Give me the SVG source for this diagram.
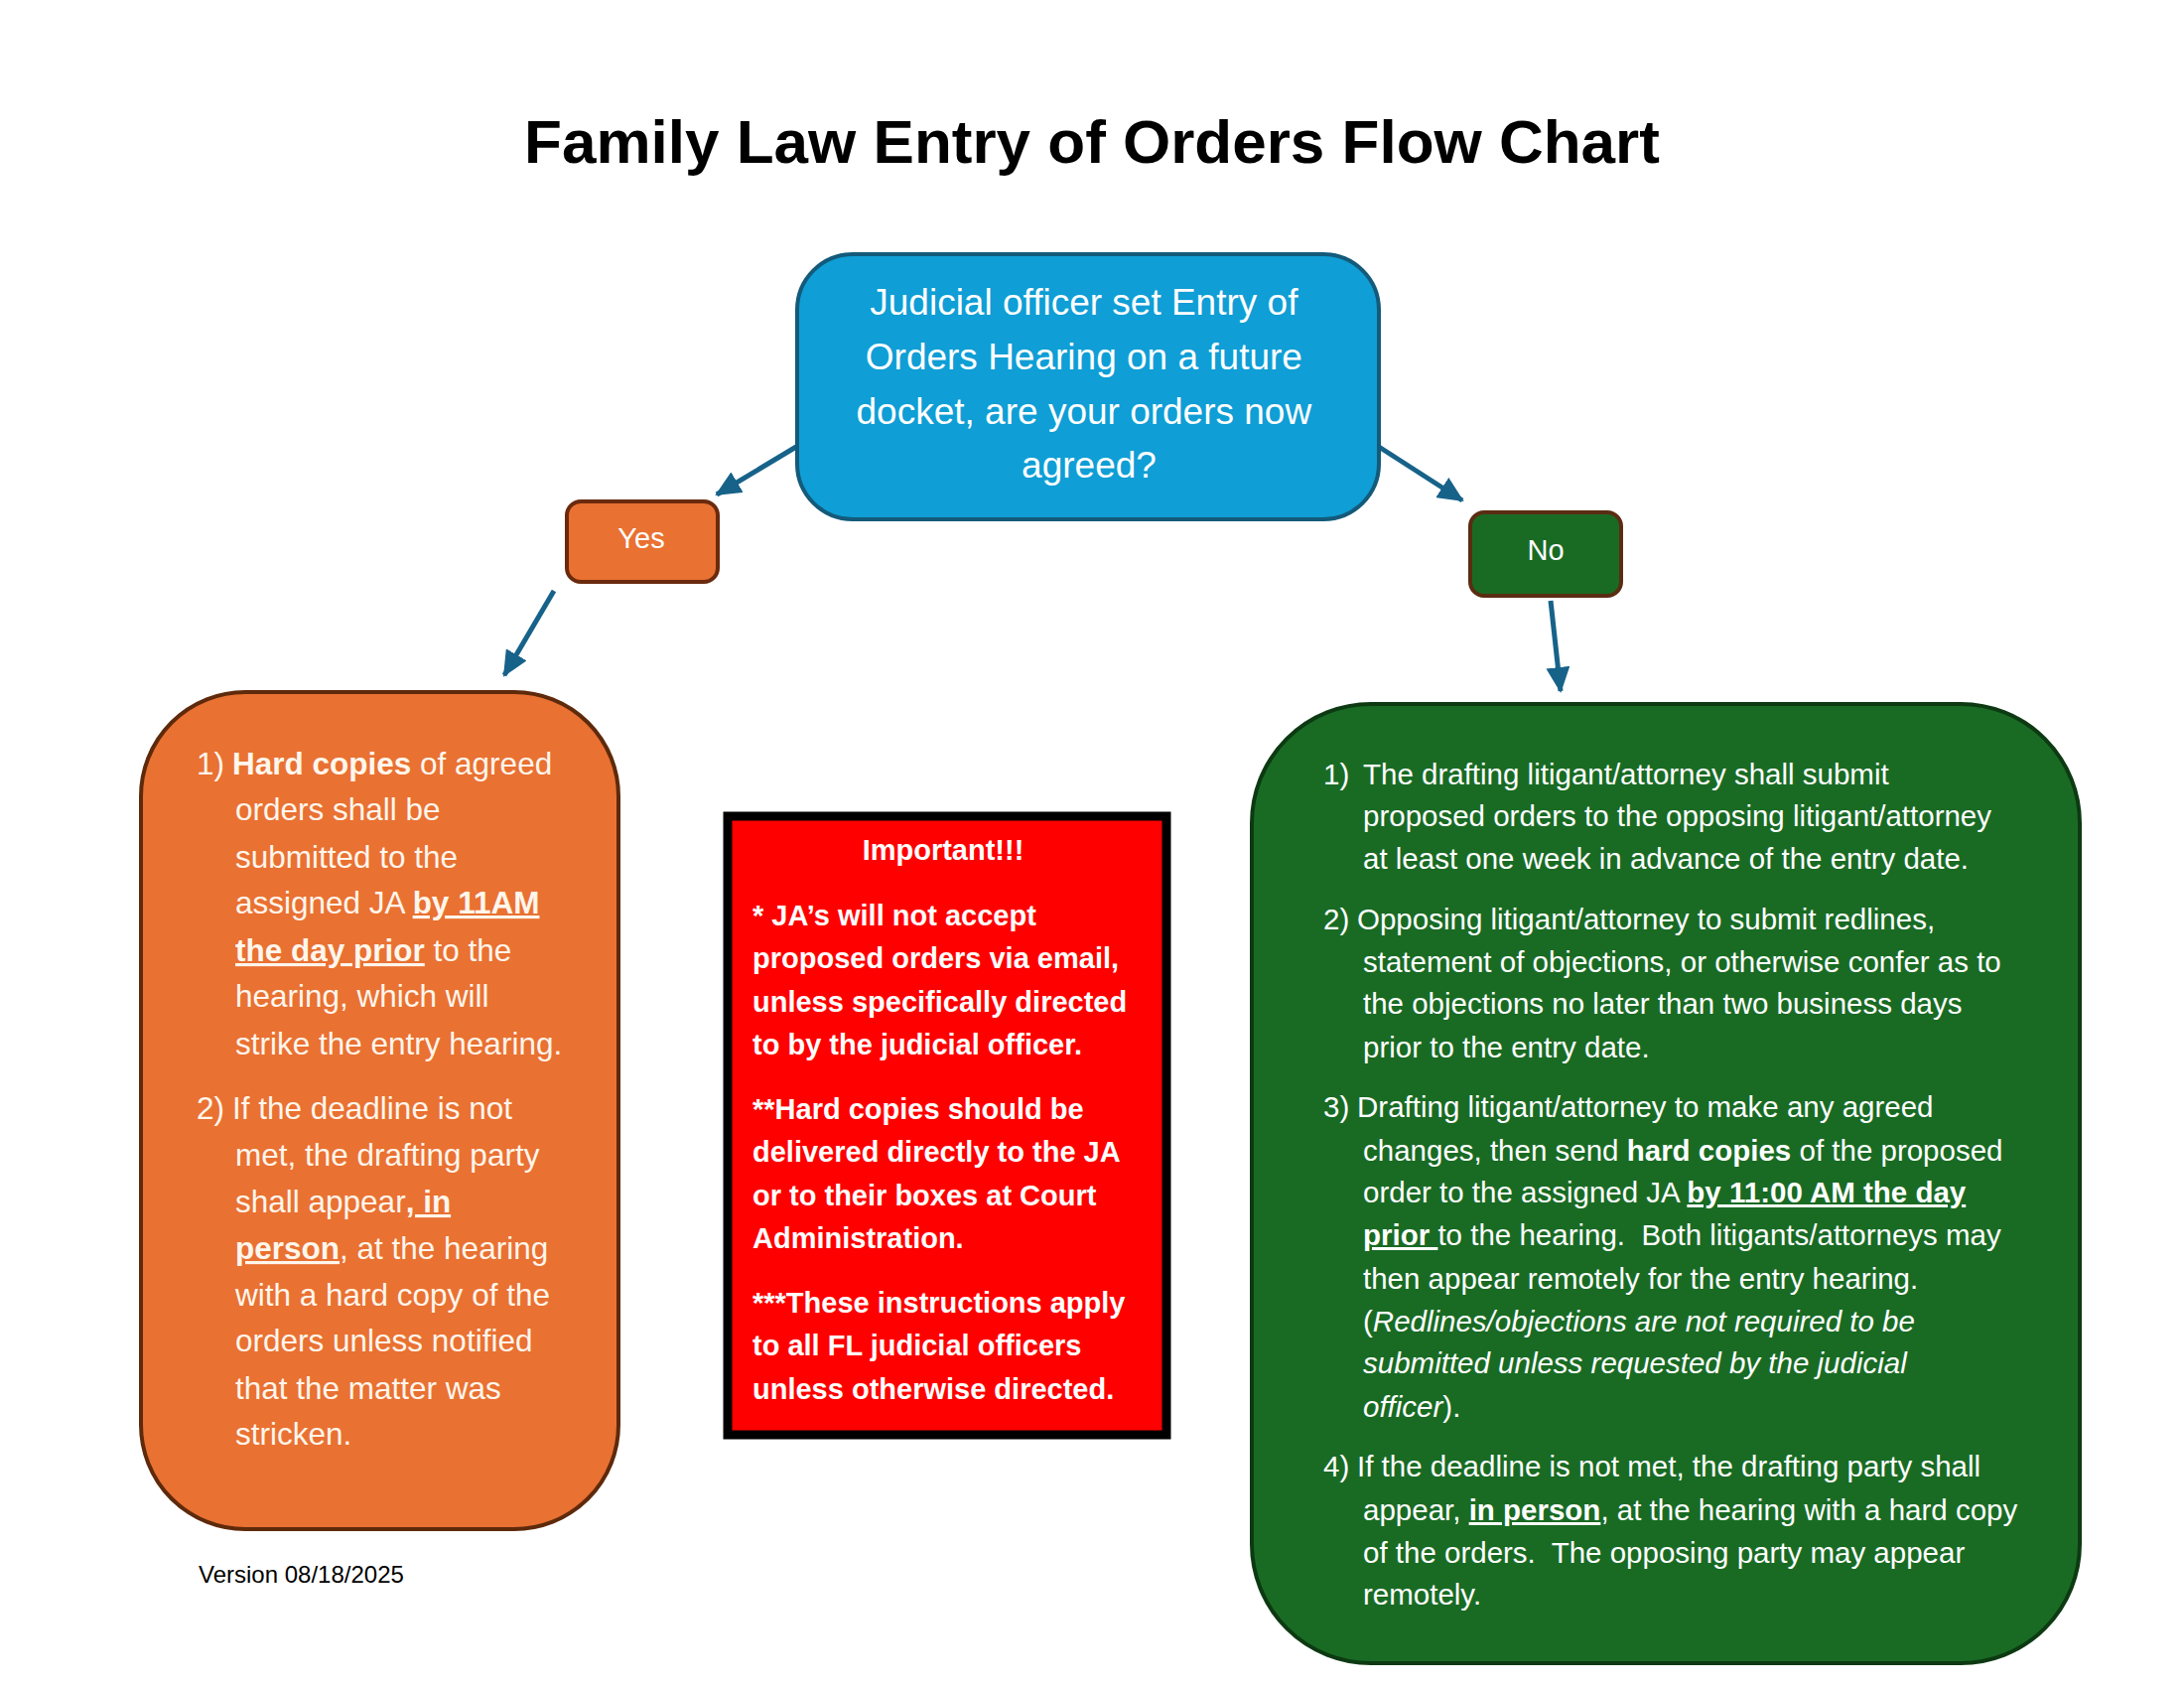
<svg xmlns="http://www.w3.org/2000/svg" width="2200" height="1700" viewBox="0 0 2200 1700">
<style>
  .title{font-family:"Liberation Sans",Arial,sans-serif;font-weight:bold;font-size:62px;fill:#000}
  .blue{font-family:"Liberation Sans",Arial,sans-serif;font-size:37px;fill:#fff}
  .lbl{font-family:"Liberation Sans",Arial,sans-serif;font-size:29px;fill:#fff}
  .or{font-family:"Liberation Sans",Arial,sans-serif;font-size:31.5px;fill:#FFF6EC}
  .rd{font-family:"Liberation Sans",Arial,sans-serif;font-size:29px;font-weight:bold;fill:#fff}
  .gr{font-family:"Liberation Sans",Arial,sans-serif;font-size:29.5px;fill:#fff}
  .ver{font-family:"Liberation Sans",Arial,sans-serif;font-size:24px;fill:#000}
  .b{font-weight:bold}
  .bu{font-weight:bold;text-decoration:underline}
  .i{font-style:italic}
  .conn{stroke:#176289;stroke-width:5;fill:none;marker-end:url(#ah)}
</style>
<defs>
  <marker id="ah" markerUnits="userSpaceOnUse" markerWidth="28" markerHeight="24" refX="24" refY="12" orient="auto">
    <path d="M0,0 L26,12 L0,24 Z" fill="#176289"/>
  </marker>
</defs>
<rect width="2200" height="1700" fill="#fff"/>
<text class="title" x="1100" y="164" text-anchor="middle">Family Law Entry of Orders Flow Chart</text>

<g id="connectors">
  <line class="conn" x1="802" y1="450" x2="722" y2="498"/>
  <line class="conn" x1="1389" y1="450" x2="1473" y2="504"/>
  <line class="conn" x1="558" y1="595" x2="508" y2="680"/>
  <line class="conn" x1="1562" y1="605" x2="1572" y2="696"/>
</g>

<g id="question">
  <rect x="803" y="256" width="586" height="267" rx="56" fill="#0F9ED5" stroke="#145A7A" stroke-width="4"/>
  <text class="blue" text-anchor="middle">
    <tspan x="1097" y="317">Judicial officer set Entry of</tspan>
    <tspan x="1097" y="372">Orders Hearing on a future</tspan>
    <tspan x="1097" y="427">docket, are your orders now</tspan>
    <tspan x="1097" y="481">agreed?</tspan>
  </text>
</g>

<g id="yes">
  <rect x="571" y="505" width="152" height="81" rx="14" fill="#E97132" stroke="#6A2A0D" stroke-width="4"/>
  <text class="lbl" x="646" y="552" text-anchor="middle">Yes</text>
</g>

<g id="no">
  <rect x="1481" y="516" width="152" height="84" rx="14" fill="#196B24" stroke="#5A2C12" stroke-width="4"/>
  <text class="lbl" x="1557" y="564" text-anchor="middle">No</text>
</g>

<g id="agreed-steps">
  <rect x="142" y="697" width="481" height="843" rx="105" fill="#E97132" stroke="#5E2A0B" stroke-width="4"/>
  <text class="or">
    <tspan x="198" y="780">1)</tspan><tspan x="234" y="780"><tspan class="b">Hard copies</tspan> of agreed</tspan>
    <tspan x="237" y="826">orders shall be</tspan>
    <tspan x="237" y="874">submitted to the</tspan>
    <tspan x="237" y="920">assigned JA <tspan class="bu">by 11AM</tspan></tspan>
    <tspan x="237" y="968"><tspan class="bu">the day prior</tspan> to the</tspan>
    <tspan x="237" y="1014">hearing, which will</tspan>
    <tspan x="237" y="1062">strike the entry hearing.</tspan>
    <tspan x="198" y="1127">2)</tspan><tspan x="234" y="1127">If the deadline is not</tspan>
    <tspan x="237" y="1174">met, the drafting party</tspan>
    <tspan x="237" y="1221">shall appear<tspan class="bu">, in</tspan></tspan>
    <tspan x="237" y="1268"><tspan class="bu">person</tspan>, at the hearing</tspan>
    <tspan x="237" y="1315">with a hard copy of the</tspan>
    <tspan x="237" y="1361">orders unless notified</tspan>
    <tspan x="237" y="1409">that the matter was</tspan>
    <tspan x="237" y="1455">stricken.</tspan>
  </text>
</g>

<g id="important">
  <rect x="733" y="822" width="442" height="623" fill="#FF0000" stroke="#000" stroke-width="9"/>
  <text class="rd">
    <tspan x="954" y="866" text-anchor="middle">Important!!!</tspan>
    <tspan x="758" y="932">* JA’s will not accept</tspan>
    <tspan x="758" y="975">proposed orders via email,</tspan>
    <tspan x="758" y="1019">unless specifically directed</tspan>
    <tspan x="758" y="1062">to by the judicial officer.</tspan>
    <tspan x="758" y="1127">**Hard copies should be</tspan>
    <tspan x="758" y="1170">delivered directly to the JA</tspan>
    <tspan x="758" y="1214">or to their boxes at Court</tspan>
    <tspan x="758" y="1257">Administration.</tspan>
    <tspan x="758" y="1322">***These instructions apply</tspan>
    <tspan x="758" y="1365">to all FL judicial officers</tspan>
    <tspan x="758" y="1409">unless otherwise directed.</tspan>
  </text>
</g>

<g id="not-agreed-steps">
  <rect x="1261" y="709" width="834" height="966" rx="120" fill="#196B24" stroke="#0D3A12" stroke-width="4"/>
  <text class="gr">
    <tspan x="1333" y="790">1)</tspan><tspan x="1373" y="790">The drafting litigant/attorney shall submit</tspan>
    <tspan x="1373" y="832">proposed orders to the opposing litigant/attorney</tspan>
    <tspan x="1373" y="875">at least one week in advance of the entry date.</tspan>
    <tspan x="1333" y="936">2)</tspan><tspan x="1367" y="936">Opposing litigant/attorney to submit redlines,</tspan>
    <tspan x="1373" y="979">statement of objections, or otherwise confer as to</tspan>
    <tspan x="1373" y="1021">the objections no later than two business days</tspan>
    <tspan x="1373" y="1065">prior to the entry date.</tspan>
    <tspan x="1333" y="1125">3)</tspan><tspan x="1367" y="1125">Drafting litigant/attorney to make any agreed</tspan>
    <tspan x="1373" y="1169">changes, then send <tspan class="b">hard copies</tspan> of the proposed</tspan>
    <tspan x="1373" y="1211">order to the assigned JA <tspan class="bu">by 11:00 AM the day</tspan></tspan>
    <tspan x="1373" y="1254"><tspan class="bu">prior </tspan>to the hearing.&#160; Both litigants/attorneys may</tspan>
    <tspan x="1373" y="1298">then appear remotely for the entry hearing.</tspan>
    <tspan x="1373" y="1341">(<tspan class="i">Redlines/objections are not required to be</tspan></tspan>
    <tspan x="1373" y="1383" class="i">submitted unless requested by the judicial</tspan>
    <tspan x="1373" y="1427"><tspan class="i">officer</tspan>).</tspan>
    <tspan x="1333" y="1487">4)</tspan><tspan x="1367" y="1487">If the deadline is not met, the drafting party shall</tspan>
    <tspan x="1373" y="1531">appear, <tspan class="bu">in person</tspan>, at the hearing with a hard copy</tspan>
    <tspan x="1373" y="1574">of the orders.&#160; The opposing party may appear</tspan>
    <tspan x="1373" y="1616">remotely.</tspan>
  </text>
</g>

<text class="ver" x="200" y="1594">Version 08/18/2025</text>
</svg>
